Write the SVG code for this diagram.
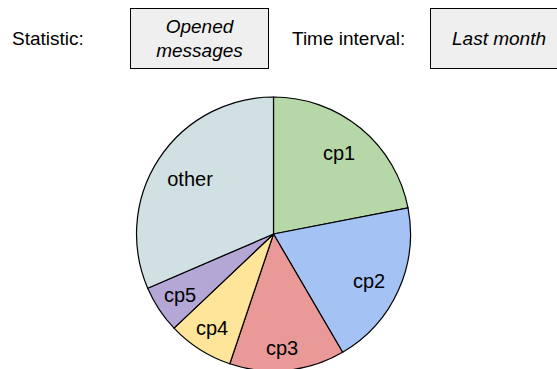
<svg xmlns="http://www.w3.org/2000/svg" width="557" height="369" viewBox="0 0 557 369">
<style>
text{font-family:"Liberation Sans",Arial,sans-serif;font-size:19px;fill:#000}
.lbl{text-anchor:start}
.val{font-style:italic;text-anchor:middle}
.box{fill:#efefef;stroke:#000;stroke-width:1}
.sl{stroke:#000;stroke-width:1.2}
.pl{text-anchor:middle;font-size:20px}
</style>
<rect width="557" height="369" fill="#fff"/>
<g id="statistic-label"><text class="lbl" x="12" y="44.5">Statistic:</text></g>
<g id="statistic-box"><rect class="box" x="130.5" y="8.5" width="138" height="60"/><text class="val" x="199.5" y="33">Opened</text><text class="val" x="199.5" y="56.5">messages</text></g>
<g id="interval-label"><text class="lbl" x="292" y="44.5">Time interval:</text></g>
<g id="interval-box"><rect class="box" x="430.5" y="8.5" width="127" height="60"/><text class="val" x="499" y="44.5">Last month</text></g>
<g id="pie">
<g id="slice-cp1"><path class="sl" fill="#b6d7a8" d="M273.5,234 L273.5,97 A137,137 0 0 1 408,207.9 Z"/></g>
<g id="slice-cp2"><path class="sl" fill="#a4c2f4" d="M273.5,234 L408,207.9 A137,137 0 0 1 342.6,352.3 Z"/></g>
<g id="slice-cp3"><path class="sl" fill="#ea9999" d="M273.5,234 L342.6,352.3 A137,137 0 0 1 229.8,363.8 Z"/></g>
<g id="slice-cp4"><path class="sl" fill="#ffe599" d="M273.5,234 L229.8,363.8 A137,137 0 0 1 174,328.1 Z"/></g>
<g id="slice-cp5"><path class="sl" fill="#b4a7d6" d="M273.5,234 L174,328.1 A137,137 0 0 1 147.7,288.2 Z"/></g>
<g id="slice-other"><path class="sl" fill="#d0e0e3" d="M273.5,234 L147.7,288.2 A137,137 0 0 1 273.5,97 Z"/></g>
<text class="pl" x="339" y="160">cp1</text>
<text class="pl" x="369" y="288">cp2</text>
<text class="pl" x="282" y="355">cp3</text>
<text class="pl" x="212" y="335">cp4</text>
<text class="pl" x="180" y="302">cp5</text>
<text class="pl" x="190" y="186">other</text>
</g>
</svg>
